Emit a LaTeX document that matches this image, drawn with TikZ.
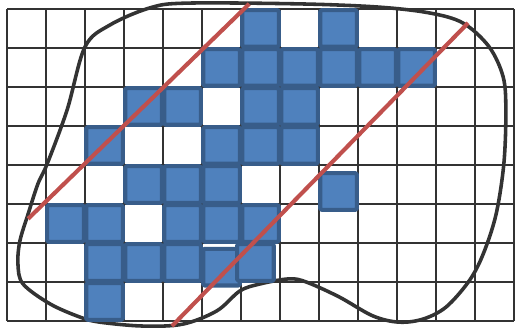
\documentclass[tikz,border=0pt]{standalone}
\usepackage{tikz}
\definecolor{kaestchen}{RGB}{79,129,189}
\definecolor{kaestchenrand}{RGB}{56,93,138}
\definecolor{gerade}{RGB}{192,80,77}
\begin{document}
\begin{tikzpicture}[feld/.style={fill=kaestchen, draw=kaestchenrand, line width=3pt, rounded corners=1pt}, x=1cm, y=1cm,
			line join=round]
			\useasboundingbox (-0.18,-0.18) rectangle (13.05,8.23);
			%Raster zeichnen
			\draw [color=black!80, line width=1.3pt] [step=10mm] (0,0) grid (13,8);
			% Kurve zeichnen
			\draw[black!80, line width=2.6pt] plot[smooth cycle, tension=0.55] coordinates {
				(1.03,4.03) (1.54,5.41) (2.0,7.03) (2.64,7.59) (3.67,8.03) (4.62,8.15)
				(7.5,8.13) (9.5,8.05) (10.82,7.9) (11.69,7.64) (12.36,7.03) (12.72,6.26)
				(12.79,5.41) (12.74,4.05) (12.54,2.74) (12.21,1.72) (11.85,1.03) (11.26,0.36)
				(10.67,0.05) (10.05,-0.03) (9.38,0.13) (8.51,0.62) (7.67,1.0) (7.23,1.08)
				(6.49,0.95) (5.97,0.77) (5.38,0.26) (4.51,-0.08) (3.49,-0.13) (2.38,-0.03)
				(1.87,0.1) (1.1,0.44) (0.41,0.95) (0.28,1.46) (0.33,2.05) (0.54,2.74) (0.79,3.51)};
			% Kaestchen zeichnen
			\foreach \x/\y in {6/7, 8/7,
				5/6, 6/6, 7/6, 8/6, 9/6, 10/6,
				3/5, 4/5, 6/5, 7/5,
				2/4, 5/4, 6/4, 7/4,
				3/3, 4/3, 5/3, 8/2.82,
				1/2, 2/2, 4/2, 5/2, 6/2,
				2/1, 3/1, 4/1, 5/0.88, 5.87/1,
				2/0}
				\draw[feld] (\x+0.03,\y+0.03) rectangle ++(0.94,0.94);
			%Geraden zeichnen
			\draw[gerade, line width=3pt] (0.54,2.62) -- (6.21,8.13);
			\draw[gerade, line width=3pt] (4.23,-0.13) -- (11.82,7.64);
		\end{tikzpicture}
\end{document}
